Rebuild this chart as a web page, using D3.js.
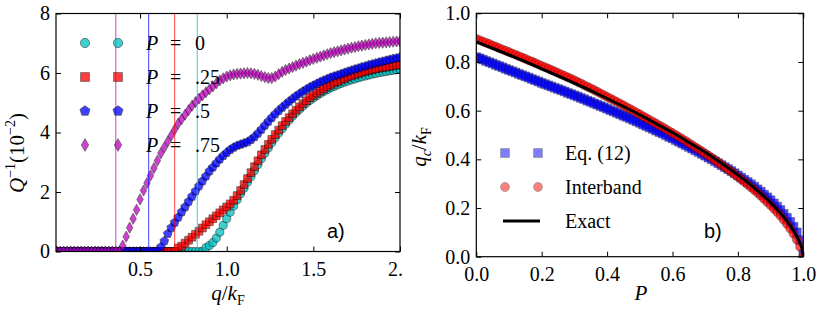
<!DOCTYPE html>
<html>
<head>
<meta charset="utf-8">
<script src="https://cdn.jsdelivr.net/npm/d3@7"></script>
<style>
  body { margin: 0; background: #fff; }
</style>
</head>
<body>
<svg id="fig" width="822" height="315"></svg>
<script>
// ---------- data: panel a) ----------
// q/kF sampling grid, 0.02 .. 2.00
const qGrid = d3.range(1, 101).map(i => +(i * 0.02).toFixed(2));

// Q^-1 (10^-2) for each polarisation
const qP0 = [
  0,0,0,0,0,0,0,0,0,0,
  0,0,0,0,0,0,0,0,0,0,
  0,0,0,0,0,0,0,0,0,0,
  0,0,0,0,0,0,0,0,0,0,
  0,0,0,
  0.13,0.2,0.3,0.45,0.65,0.88,1.1,1.32,1.53,1.74,
  1.94,2.13,2.33,2.52,2.72,2.92,3.12,3.3,3.48,3.66,
  3.83,3.98,4.13,4.28,4.42,4.55,4.67,4.78,4.89,4.99,
  5.08,5.16,5.24,5.31,5.38,5.44,5.5,5.55,5.6,5.65,
  5.69,5.73,5.77,5.8,5.84,5.87,5.9,5.93,5.96,5.98,
  6.01,6.03,6.05,6.07,6.09,6.11,6.13
];
const qP25 = [
  0,0,0,0,0,0,0,0,0,0,
  0,0,0,0,0,0,0,0,0,0,
  0,0,0,0,0,0,0,0,0,0,
  0,0,0,0,0,
  0.12,0.18,0.28,0.38,0.48,0.58,0.68,0.79,0.9,1.0,
  1.1,1.2,1.3,1.4,1.5,1.6,1.72,1.88,2.05,2.25,
  2.45,2.65,2.85,3.05,3.25,3.43,3.6,3.77,3.93,4.08,
  4.23,4.37,4.5,4.63,4.75,4.86,4.97,5.07,5.17,5.25,
  5.33,5.4,5.47,5.54,5.6,5.66,5.71,5.76,5.81,5.86,
  5.9,5.94,5.98,6.02,6.05,6.08,6.11,6.14,6.16,6.18,
  6.2,6.22,6.24,6.26,6.28
];
const qP50 = [
  0,0,0,0,0,0,0,0,0,0,
  0,0,0,0,0,0,0,0,0,0,
  0,0,0,0,0,0,0,0,0,0,
  0.15,0.35,0.6,0.8,0.98,1.15,1.33,1.5,1.68,1.85,
  2.03,2.2,2.37,2.53,2.7,2.83,2.97,3.1,3.22,3.32,
  3.42,3.5,3.56,3.6,3.64,3.68,3.76,3.85,3.97,4.1,
  4.24,4.37,4.5,4.62,4.73,4.84,4.94,5.04,5.13,5.22,
  5.3,5.38,5.45,5.52,5.58,5.64,5.7,5.75,5.8,5.85,
  5.89,5.93,5.97,6.01,6.05,6.09,6.13,6.16,6.2,6.23,
  6.27,6.3,6.33,6.36,6.39,6.42,6.45,6.48,6.5,6.53
];
const qP75 = [
  0,0,0,0,0,0,0,0,0,0,
  0,0,0,0,0,0,0,0,0,
  0.2,0.5,0.8,1.1,1.4,1.75,2.05,2.3,2.55,2.8,
  3.05,3.3,3.5,3.7,3.9,4.1,4.3,4.45,4.6,4.75,
  4.9,5.02,5.14,5.25,5.35,5.45,5.55,5.65,5.75,5.82,
  5.88,5.92,5.95,5.97,5.98,5.99,6.0,5.99,5.97,5.94,
  5.9,5.86,5.83,5.83,5.88,5.96,6.04,6.1,6.15,6.2,
  6.25,6.3,6.34,6.38,6.43,6.47,6.51,6.55,6.59,6.63,
  6.67,6.7,6.73,6.76,6.79,6.82,6.85,6.87,6.9,6.92,
  6.94,6.96,6.98,7.0,7.01,7.02,7.03,7.04,7.05,7.06,
  7.07
];
// critical momenta (vertical lines) for P = .75, .5, .25, 0
const qcValues = [0.36, 0.55, 0.70, 0.83];
const legendLabelsA = ["0", ".25", ".5", ".75"];
const xTicksA = [0.5, 1.0, 1.5, 2.0];
const yTicksA = [0, 2, 4, 6, 8];

// ---------- data: panel b) ----------
const pGrid = d3.range(0, 101).map(i => i / 100);
const eq12 = [
  0.820,0.815,0.810,0.804,0.799,0.794,0.788,0.783,0.778,0.772,
  0.767,0.762,0.757,0.751,0.746,0.741,0.736,0.730,0.725,0.720,
  0.714,0.709,0.704,0.699,0.694,0.689,0.684,0.679,0.673,0.668,
  0.663,0.658,0.652,0.647,0.641,0.636,0.630,0.625,0.619,0.614,
  0.608,0.602,0.597,0.591,0.585,0.579,0.574,0.568,0.562,0.556,
  0.550,0.543,0.537,0.531,0.525,0.518,0.512,0.506,0.499,0.492,
  0.486,0.479,0.472,0.465,0.458,0.451,0.444,0.437,0.430,0.422,
  0.415,0.407,0.400,0.392,0.384,0.376,0.368,0.360,0.352,0.343,
  0.334,0.325,0.316,0.307,0.298,0.288,0.277,0.267,0.255,0.244,
  0.232,0.219,0.206,0.192,0.176,0.160,0.143,0.123,0.100,0.068,
  0.010
];
const interband = [
  0.895,0.890,0.884,0.879,0.874,0.868,0.863,0.857,0.852,0.846,
  0.841,0.835,0.830,0.824,0.819,0.813,0.807,0.802,0.796,0.790,
  0.784,0.779,0.773,0.767,0.761,0.755,0.749,0.743,0.737,0.731,
  0.725,0.718,0.712,0.705,0.698,0.692,0.685,0.678,0.671,0.664,
  0.657,0.650,0.643,0.636,0.629,0.622,0.614,0.607,0.600,0.592,
  0.585,0.577,0.570,0.562,0.555,0.547,0.539,0.532,0.524,0.516,
  0.508,0.500,0.492,0.484,0.476,0.467,0.459,0.450,0.442,0.433,
  0.424,0.415,0.406,0.397,0.387,0.378,0.368,0.359,0.349,0.339,
  0.328,0.318,0.307,0.296,0.285,0.274,0.262,0.250,0.237,0.224,
  0.211,0.197,0.183,0.168,0.151,0.134,0.115,0.094,0.070,0.040,
  0.000
];
const exactP = [0,0.05,0.1,0.15,0.2,0.25,0.3,0.35,0.4,0.45,0.5,0.55,0.6,0.65,0.7,0.75,0.8,0.85,0.9,0.93,0.95,0.97,0.98,0.99,0.995,1.0];
const exactQ = [0.883,0.856,0.829,0.801,0.772,0.743,0.713,0.682,0.650,0.617,0.583,0.547,0.510,0.470,0.429,0.384,0.336,0.283,0.222,0.179,0.146,0.108,0.084,0.056,0.037,0];
const ticksB = [0, 0.2, 0.4, 0.6, 0.8, 1.0];

// ---------- drawing ----------
const SERIF = "'Liberation Serif', 'DejaVu Serif', 'Liberation Sans', sans-serif";
const SANS = "'Liberation Sans', Arial, sans-serif";
const FS = 20;
const svg = d3.select("#fig");
svg.append("rect").attr("width", 822).attr("height", 315).attr("fill", "#fff");
const defs = svg.append("defs");

// matplotlib style pentagon marker
const symbolPentagon = {
  draw(ctx, size) {
    const r = Math.sqrt(size / 2.3776);
    for (let k = 0; k < 5; k++) {
      const a = -Math.PI / 2 + k * 2 * Math.PI / 5;
      if (k) ctx.lineTo(r * Math.cos(a), r * Math.sin(a));
      else ctx.moveTo(r * Math.cos(a), r * Math.sin(a));
    }
    ctx.closePath();
  }
};

function drawFrame(g, x, y, xt, yt, xfmt, yfmt) {
  const [x0, x1] = x.range(), [y0, y1] = y.range();
  const ax = g.append("g").attr("transform", `translate(0,${y0})`)
    .call(d3.axisBottom(x).tickValues(xt).tickFormat(xfmt).tickSize(-5).tickPadding(10));
  g.append("g").attr("transform", `translate(0,${y1})`)
    .call(d3.axisTop(x).tickValues(xt).tickFormat("").tickSize(-5));
  const ay = g.append("g").attr("transform", `translate(${x0},0)`)
    .call(d3.axisLeft(y).tickValues(yt).tickFormat(yfmt).tickSize(-5).tickPadding(6));
  g.append("g").attr("transform", `translate(${x1},0)`)
    .call(d3.axisRight(y).tickValues(yt).tickFormat("").tickSize(-5));
  g.selectAll(".domain").remove();
  g.selectAll(".tick line").attr("stroke", "#000").attr("stroke-width", 1);
  [ax, ay].forEach(a => a.attr("font-size", FS).attr("font-family", SERIF)
    .selectAll("text").attr("fill", "#000"));
  g.append("rect").attr("x", x0).attr("y", y1).attr("width", x1 - x0).attr("height", y0 - y1)
    .attr("fill", "none").attr("stroke", "#000").attr("stroke-width", 1.2);
}

// ===== panel a) =====
defs.append("clipPath").attr("id", "clipA").append("rect")
  .attr("x", 0).attr("y", 0).attr("width", 403).attr("height", 315);
defs.append("clipPath").attr("id", "plotA").append("rect")
  .attr("x", 56).attr("y", 13.5).attr("width", 344).attr("height", 238);

const gA = svg.append("g").attr("clip-path", "url(#clipA)");
const xA = d3.scaleLinear().domain([0.015, 2.0]).range([56, 400]);
const yA = d3.scaleLinear().domain([0, 8]).range([251.5, 13.5]);

const seriesA = [
  { values: qP0,  color: "rgb(0,191,191)", type: d3.symbolCircle,   size: 52 },
  { values: qP25, color: "rgb(255,0,0)",   type: d3.symbolSquare,   size: 60 },
  { values: qP50, color: "rgb(0,0,255)",   type: symbolPentagon,    size: 52 },
  { values: qP75, color: "rgb(191,0,191)", type: d3.symbolDiamond,  size: 36 }
];

const plotA = gA.append("g").attr("clip-path", "url(#plotA)");
seriesA.forEach(s => {
  plotA.append("g").selectAll("path")
    .data(qGrid.map((q, i) => [q, s.values[i]]))
    .join("path")
    .attr("transform", d => `translate(${xA(d[0])},${yA(d[1])})`)
    .attr("d", d3.symbol(s.type, s.size))
    .attr("fill", s.color)
    .attr("stroke", "#000")
    .attr("stroke-width", 0.6)
    .attr("opacity", 0.75);
});

const qcColors = ["rgb(191,0,191)", "rgb(0,0,255)", "rgb(255,0,0)", "rgb(0,191,191)"];
plotA.selectAll("line.qc").data(qcValues).join("line")
  .attr("class", "qc")
  .attr("x1", d => xA(d)).attr("x2", d => xA(d))
  .attr("y1", yA(0)).attr("y2", yA(8))
  .attr("stroke", (d, i) => qcColors[i]).attr("stroke-width", 1).attr("opacity", 0.75);

drawFrame(gA, xA, yA, xTicksA, yTicksA, d3.format(".1f"), d3.format("d"));

// legend a)
const legA = gA.append("g").attr("font-family", SERIF).attr("font-size", FS);
seriesA.forEach((s, i) => {
  const yy = 43 + i * 34;
  [85, 118].forEach(xx => {
    legA.append("path").attr("transform", `translate(${xx},${yy})`)
      .attr("d", d3.symbol(s.type, s.size * 1.3))
      .attr("fill", s.color).attr("stroke", "#000").attr("stroke-width", 0.6).attr("opacity", 0.75);
  });
  legA.append("text").attr("x", 146).attr("y", yy + 7).attr("font-style", "italic").text("P");
  legA.append("text").attr("x", 170).attr("y", yy + 7).text("=");
  legA.append("text").attr("x", 195).attr("y", yy + 7).text(legendLabelsA[i]);
});

gA.append("text").attr("font-family", SANS).attr("x", 327).attr("y", 238)
  .attr("font-size", 20).text("a)");

// axis labels a)
const xlabA = gA.append("text").attr("x", 228).attr("y", 300).attr("text-anchor", "middle")
  .attr("font-size", FS + 1).attr("font-family", SERIF);
xlabA.append("tspan").attr("font-style", "italic").text("q");
xlabA.append("tspan").text("/");
xlabA.append("tspan").attr("font-style", "italic").text("k");
xlabA.append("tspan").attr("font-size", 14).attr("dy", 5).text("F");

const ylabA = gA.append("text").attr("transform", "translate(24,153) rotate(-90)")
  .attr("text-anchor", "middle").attr("font-size", FS + 1).attr("font-family", SERIF);
ylabA.append("tspan").attr("font-style", "italic").text("Q");
ylabA.append("tspan").attr("font-size", 14).attr("dy", -9).text("\u22121");
ylabA.append("tspan").attr("dy", 9).text("(10");
ylabA.append("tspan").attr("font-size", 14).attr("dy", -9).text("\u22122");
ylabA.append("tspan").attr("dy", 9).text(")");

// ===== panel b) =====
const xB = d3.scaleLinear().domain([0, 1]).range([476.3, 803.3]);
const yB = d3.scaleLinear().domain([0, 1]).range([256.7, 13.3]);
defs.append("clipPath").attr("id", "plotB").append("rect")
  .attr("x", 476.3).attr("y", 13.3).attr("width", 327).attr("height", 243.4);
const gB = svg.append("g");
const plotB = gB.append("g").attr("clip-path", "url(#plotB)");

const seriesB = [
  { name: "Eq. (12)",  values: eq12,      color: "rgb(0,0,255)", type: d3.symbolSquare, size: 78 },
  { name: "Interband", values: interband, color: "rgb(255,0,0)", type: d3.symbolCircle, size: 62 }
];
seriesB.forEach(s => {
  plotB.append("g").selectAll("path")
    .data(pGrid.map((p, i) => [p, s.values[i]]))
    .join("path")
    .attr("transform", d => `translate(${xB(d[0])},${yB(d[1])})`)
    .attr("d", d3.symbol(s.type, s.size))
    .attr("fill", s.color)
    .attr("stroke", "#000")
    .attr("stroke-width", 0.4)
    .attr("opacity", 0.7);
});

const exactLine = d3.line().x(d => xB(d[0])).y(d => yB(d[1])).curve(d3.curveMonotoneX);
plotB.append("path")
  .datum(exactP.map((p, i) => [p, exactQ[i]]))
  .attr("d", exactLine).attr("fill", "none").attr("stroke", "#000").attr("stroke-width", 3);

drawFrame(gB, xB, yB, ticksB, ticksB, d3.format(".1f"), d3.format(".1f"));

// legend b)
const legB = gB.append("g").attr("font-family", SERIF).attr("font-size", FS);
seriesB.forEach((s, i) => {
  const yy = 153 + i * 34;
  [505, 538].forEach(xx => {
    legB.append("path").attr("transform", `translate(${xx},${yy})`)
      .attr("d", d3.symbol(s.type, s.size))
      .attr("fill", s.color).attr("stroke", "#000").attr("stroke-width", 0.6).attr("opacity", 0.5);
  });
  legB.append("text").attr("x", 565).attr("y", yy + 7).text(s.name);
});
legB.append("line").attr("x1", 503).attr("x2", 540).attr("y1", 221).attr("y2", 221)
  .attr("stroke", "#000").attr("stroke-width", 3);
legB.append("text").attr("x", 565).attr("y", 228).text("Exact");

gB.append("text").attr("font-family", SANS).attr("x", 704).attr("y", 238)
  .attr("font-size", 20).text("b)");

gB.append("text").attr("x", 641).attr("y", 300).attr("text-anchor", "middle")
  .attr("font-size", FS + 1).attr("font-style", "italic").attr("font-family", SERIF).text("P");

const ylabB = gB.append("text").attr("transform", "translate(426,147) rotate(-90)")
  .attr("text-anchor", "middle").attr("font-size", FS + 1).attr("font-family", SERIF);
ylabB.append("tspan").attr("font-style", "italic").text("q");
ylabB.append("tspan").attr("font-style", "italic").attr("font-size", 14).attr("dy", 5).text("c");
ylabB.append("tspan").attr("dy", -5).text("/");
ylabB.append("tspan").attr("font-style", "italic").text("k");
ylabB.append("tspan").attr("font-size", 14).attr("dy", 5).text("F");
</script>
</body>
</html>
